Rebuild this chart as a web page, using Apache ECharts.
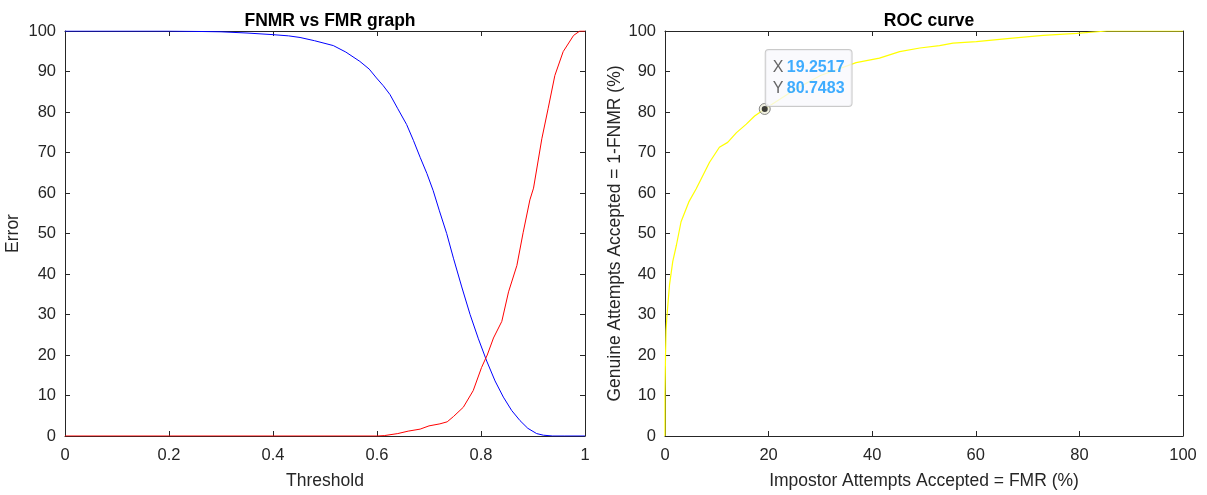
<!DOCTYPE html>
<html>
<head>
<meta charset="utf-8">
<script src="https://cdn.jsdelivr.net/npm/echarts@6/dist/echarts.min.js"></script>
<style>
html,body{margin:0;padding:0;background:#fff;}
#chart{width:1207px;height:495px;}
</style>
</head>
<body>
<div id="chart"></div>
<script>
// ---- Data ----
var leftTitle = 'FNMR vs FMR graph';
var rightTitle = 'ROC curve';
var leftXName = 'Threshold';
var leftYName = 'Error';
var rightXName = 'Impostor Attempts Accepted = FMR (%)';
var rightYName = 'Genuine Attempts Accepted = 1-FNMR (%)';

// FNMR (blue) vs threshold
var fnmrT = [0, 0.1, 0.2, 0.25, 0.3, 0.35, 0.4, 0.43, 0.452, 0.48, 0.516, 0.54, 0.567, 0.585, 0.599, 0.612, 0.625, 0.64, 0.657, 0.67, 0.683, 0.696, 0.708, 0.72, 0.734, 0.747, 0.763, 0.779, 0.795, 0.811, 0.827, 0.843, 0.859, 0.875, 0.89, 0.907, 0.92, 0.938, 0.96, 1.0];
var fnmrV = [100, 100, 100, 99.9, 99.8, 99.5, 99.1, 98.8, 98.4, 97.6, 96.4, 94.8, 92.5, 90.6, 88.4, 86.5, 84.3, 80.8, 76.9, 73.0, 68.8, 64.8, 60.6, 55.6, 50.0, 43.9, 36.8, 30.0, 24.0, 18.5, 13.6, 9.6, 6.3, 3.8, 1.9, 0.6, 0.2, 0.0, 0.0, 0.0];

// FMR (red) vs threshold
var fmrT = [0, 0.2, 0.4, 0.6, 0.614, 0.64, 0.66, 0.683, 0.70, 0.721, 0.735, 0.747, 0.766, 0.785, 0.801, 0.812, 0.824, 0.840, 0.853, 0.869, 0.881, 0.894, 0.901, 0.917, 0.929, 0.942, 0.958, 0.978, 0.99, 1.0];
var fmrV = [0, 0, 0, 0, 0.1, 0.6, 1.2, 1.7, 2.5, 3.0, 3.5, 4.8, 7.1, 11.2, 16.9, 20.0, 24.2, 28.3, 35.6, 42.1, 50.2, 58.3, 61.2, 73.4, 80.8, 89.0, 94.9, 98.9, 100, 100];

// ROC (yellow): FMR (%) vs 1-FNMR (%)
var rocX = [0, 0, 0.1, 0.2, 0.35, 0.87, 1.5, 2.2, 3.1, 4.6, 6.0, 7.0, 8.6, 10.5, 12.1, 13.8, 15.7, 17.3, 19.2517, 25, 30, 36.9, 41.4, 45.3, 49.2, 53.0, 55.6, 60.1, 66.6, 73.0, 79.5, 85.3, 90, 100];
var rocY = [0, 10, 20, 26, 29.2, 37.3, 43.1, 47.1, 52.9, 57.8, 61.0, 63.5, 67.6, 71.3, 72.5, 74.9, 77.0, 79.0, 80.7483, 85.5, 89, 92.2, 93.3, 94.9, 95.8, 96.4, 97.0, 97.4, 98.2, 98.9, 99.4, 100, 100, 100];

// Data tip
var tipPoint = [19.2517, 80.7483];

// Axis tick settings
var leftXTicks = {min: 0, max: 1, interval: 0.2};
var pctTicks = {min: 0, max: 100, interval: 10};
var rocXTicks = {min: 0, max: 100, interval: 20};

function zip(a, b) { return a.map(function (v, i) { return [v, b[i]]; }); }

var FONT = 'Liberation Sans, Arial, Helvetica, sans-serif';
var AX = '#262626';

function boxAxis(grid, pos, ticks, showLabels, name, gap, isX) {
  var o = {
    type: 'value', gridIndex: grid, position: pos,
    min: ticks.min, max: ticks.max, interval: ticks.interval,
    axisLine: {show: true, onZero: false, lineStyle: {color: AX, width: 1}},
    axisTick: {show: true, inside: true, length: 5, lineStyle: {color: AX}},
    axisLabel: {show: showLabels, color: AX, fontSize: 16.5, fontFamily: FONT, margin: isX ? 11 : 9},
    splitLine: {show: false}
  };
  if (name) {
    o.name = name; o.nameLocation = 'middle'; o.nameGap = gap;
    o.nameTextStyle = {color: AX, fontSize: 17.5, fontFamily: FONT};
  }
  return o;
}

var chart = echarts.init(document.getElementById('chart'));
chart.setOption({
  animation: false,
  backgroundColor: '#ffffff',
  title: [
    {text: leftTitle, left: 325, top: 7, textAlign: 'center',
     textStyle: {fontSize: 17.5, fontWeight: 'bold', color: '#000', fontFamily: FONT}},
    {text: rightTitle, left: 924, top: 7, textAlign: 'center',
     textStyle: {fontSize: 17.5, fontWeight: 'bold', color: '#000', fontFamily: FONT}}
  ],
  grid: [
    {left: 65, top: 31, width: 520, height: 408},
    {left: 665, top: 31, width: 518, height: 408}
  ],
  xAxis: [
    boxAxis(0, 'bottom', leftXTicks, true, leftXName, 36, true),
    boxAxis(0, 'top', leftXTicks, false),
    boxAxis(1, 'bottom', rocXTicks, true, rightXName, 36, true),
    boxAxis(1, 'top', rocXTicks, false)
  ],
  yAxis: [
    boxAxis(0, 'left', pctTicks, true, leftYName, 43),
    boxAxis(0, 'right', pctTicks, false),
    boxAxis(1, 'left', pctTicks, true, rightYName, 40),
    boxAxis(1, 'right', pctTicks, false)
  ],
  series: [
    {type: 'line', xAxisIndex: 0, yAxisIndex: 0, data: zip(fnmrT, fnmrV), showSymbol: false,
     lineStyle: {color: '#0000ff', width: 1}, z: 3},
    {type: 'line', xAxisIndex: 0, yAxisIndex: 0, data: zip(fmrT, fmrV), showSymbol: false,
     lineStyle: {color: '#ff0000', width: 1}, z: 4},
    {type: 'line', xAxisIndex: 2, yAxisIndex: 2, data: zip(rocX, rocY), showSymbol: false,
     lineStyle: {color: '#ffff00', width: 1.2}, z: 3},
    {type: 'scatter', xAxisIndex: 2, yAxisIndex: 2, data: [tipPoint], symbol: 'circle', symbolSize: 11,
     itemStyle: {color: '#eeeed8', borderColor: '#6e6e6e', borderWidth: 1}, z: 5,
     label: {show: true, position: [7, -53],
       formatter: function () {
         return '{k|X} {v|' + tipPoint[0].toFixed(4) + '}\n{k|Y} {v|' + tipPoint[1].toFixed(4) + '}';
       },
       backgroundColor: '#f9f9fd', borderColor: '#bdbdbd', borderWidth: 1, borderRadius: 3,
       padding: [7, 7, 7, 7],
       rich: {
         k: {fontSize: 16, color: '#404040', fontFamily: FONT, lineHeight: 21},
         v: {fontSize: 16, color: '#0f99ff', fontWeight: 'bold', fontFamily: FONT, lineHeight: 21}
       }}},
    {type: 'scatter', xAxisIndex: 2, yAxisIndex: 2, data: [tipPoint], symbol: 'circle', symbolSize: 6,
     itemStyle: {color: '#111'}, z: 6, silent: true}
  ]
});
</script>
</body>
</html>
